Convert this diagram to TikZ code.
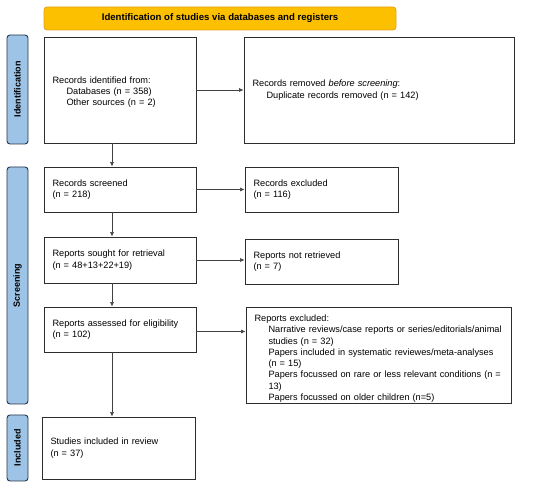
\documentclass[tikz,border=0pt]{standalone}
\usepackage{fontspec}
\setmainfont{Liberation Sans}
\usetikzlibrary{arrows.meta,calc}
\definecolor{bannerfill}{RGB}{252,192,0}
\definecolor{bannerline}{RGB}{230,160,30}
\definecolor{labelfill}{RGB}{157,195,230}
\definecolor{labelline}{RGB}{40,55,75}
\definecolor{boxline}{RGB}{45,45,45}
\begin{document}
\begin{tikzpicture}[x=1pt,y=1pt,
  box/.style={draw=boxline,line width=0.9pt,inner xsep=8.5pt,inner ysep=0pt,align=left,font=\fontsize{9.2}{11.3}\selectfont},
  sidelabel/.style={draw=labelline,fill=labelfill,line width=0.9pt,rounded corners=3pt,rotate=90,inner sep=0pt,minimum height=21pt,font=\fontsize{9}{10}\selectfont\bfseries},
  arr/.style={draw=black!75,line width=0.6pt,-{Latex[length=4.5pt,width=4pt]}}]
\useasboundingbox (0,0) rectangle (550,-489);
\node[draw=bannerline,fill=bannerfill,line width=0.8pt,rounded corners=3pt,minimum width=352pt,minimum height=23pt,inner sep=0pt,font=\fontsize{9.6}{10}\selectfont\bfseries] (banner) at (220,-18.5) {Identification of studies via databases and registers};
\node[sidelabel,minimum width=109pt] (lid) at (17.5,-89.5) {Identification};
\node[sidelabel,minimum width=237pt] (lsc) at (17.5,-285.5) {Screening};
\node[sidelabel,minimum width=66pt] (lin) at (17.5,-448) {Included};
\node[box,minimum width=152pt,minimum height=106pt,text width=135pt] (b1) at (120,-90) {\rule{0pt}{11pt}Records identified from:\\\hspace*{14pt}Databases (n = 358)\\\hspace*{14pt}Other sources (n = 2)};
\node[box,minimum width=270pt,minimum height=106pt,text width=253pt] (b2) at (379,-90) {Records removed \textit{before screening}:\\\hspace*{14pt}Duplicate records removed (n = 142)};
\node[box,minimum width=152pt,minimum height=45pt,text width=135pt] (b3) at (120,-189.5) {Records screened\\(n = 218)};
\node[box,minimum width=153pt,minimum height=45pt,text width=136pt] (b4) at (321.5,-189.5) {Records excluded\\(n = 116)};
\node[box,minimum width=152pt,minimum height=46pt,text width=135pt] (b5) at (120,-260) {Reports sought for retrieval\\(n = 48+13+22+19)};
\node[box,minimum width=153pt,minimum height=45pt,text width=136pt] (b6) at (321.5,-261.5) {Reports not retrieved\\(n = 7)};
\node[box,minimum width=152pt,minimum height=45pt,text width=135pt] (b7) at (120,-329.5) {Reports assessed for eligibility\\(n = 102)};
\node[box,minimum width=265pt,minimum height=96pt,text width=248pt] (b8) at (378.5,-355) {\rule{0pt}{14pt}Reports excluded:\\\hspace*{14pt}Narrative reviews/case reports or series/editorials/animal\\\hspace*{14pt}studies (n = 32)\\\hspace*{14pt}Papers included in systematic reviewes/meta-analyses\\\hspace*{14pt}(n = 15)\\\hspace*{14pt}Papers focussed on rare or less relevant conditions (n =\\\hspace*{14pt}13)\\\hspace*{14pt}Papers focussed on older children (n=5)};
\node[box,minimum width=153pt,minimum height=62pt,text width=136pt] (b9) at (118.5,-448) {Studies included in review\\(n = 37)};
\draw[arr] (b1.east) -- (b1.east -| b2.west);
\draw[arr] (b3.east) -- (b3.east -| b4.west);
\draw[arr] (b5.east) -- (b5.east -| b6.west);
\draw[arr] ([yshift=-2pt]b7.east) -- ([yshift=-2pt]b7.east -| b8.west);
\draw[arr] ([xshift=-8pt]b1.south) -- ([xshift=-8pt]b1.south |- b3.north);
\draw[arr] ([xshift=-8pt]b3.south) -- ([xshift=-8pt]b3.south |- b5.north);
\draw[arr] ([xshift=-8pt]b5.south) -- ([xshift=-8pt]b5.south |- b7.north);
\draw[arr] ([xshift=-8pt]b7.south) -- ([xshift=-8pt]b7.south |- b9.north);
\end{tikzpicture}
\end{document}
